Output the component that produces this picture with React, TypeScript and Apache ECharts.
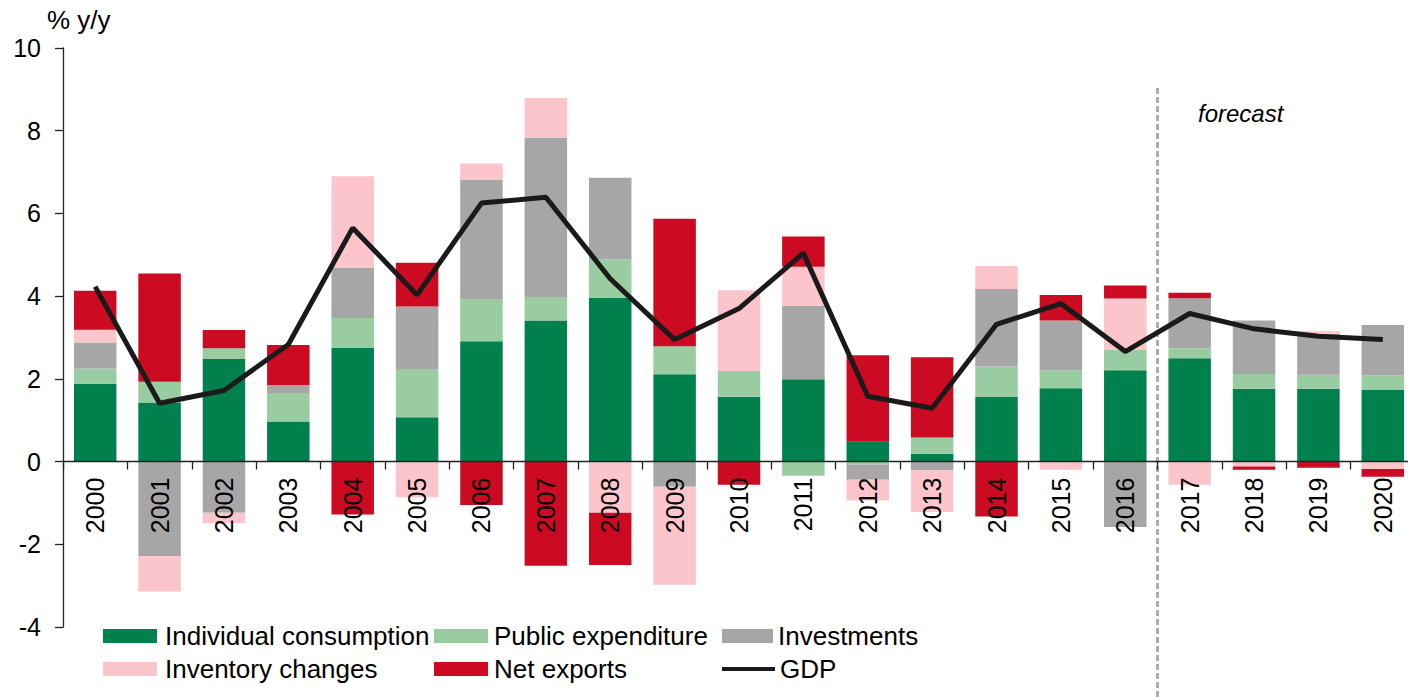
import React, { useEffect, useRef } from "react";
import * as echarts from "echarts";

const years = ["2000","2001","2002","2003","2004","2005","2006","2007","2008","2009","2010","2011","2012","2013","2014","2015","2016","2017","2018","2019","2020"];
const consumption = [1.88, 1.43, 2.48, 0.97, 2.75, 1.07, 2.91, 3.41, 3.96, 2.11, 1.57, 1.99, 0.48, 0.19, 1.56, 1.77, 2.21, 2.50, 1.76, 1.76, 1.73];
const publicExp = [0.37, 0.50, 0.26, 0.67, 0.72, 1.15, 1.00, 0.55, 0.93, 0.68, 0.62, -0.34, -0.07, 0.39, 0.74, 0.44, 0.50, 0.24, 0.36, 0.34, 0.35];
const investments = [0.63, -2.29, -1.24, 0.21, 1.21, 1.53, 2.90, 3.87, 1.97, -0.61, 0, 1.78, -0.37, -0.21, 1.87, 1.20, -1.58, 1.21, 1.29, 0.99, 1.22];
const inventory = [0.31, -0.85, -0.25, 0, 2.22, -0.86, 0.40, 0.96, -1.24, -2.37, 1.95, 0.94, -0.50, -1.01, 0.56, -0.20, 1.23, -0.56, -0.12, 0.06, -0.18];
const netExports = [0.94, 2.62, 0.44, 0.97, -1.28, 1.06, -1.05, -2.52, -1.26, 3.08, -0.56, 0.73, 2.09, 1.94, -1.33, 0.62, 0.32, 0.13, -0.08, -0.15, -0.19];
const gdp = [4.23, 1.41, 1.72, 2.83, 5.65, 4.03, 6.25, 6.39, 4.42, 2.95, 3.70, 5.04, 1.58, 1.29, 3.32, 3.82, 2.66, 3.58, 3.21, 3.03, 2.95];

const yTicks = { min: -4, max: 10, interval: 2 };
const FONT = '"Liberation Sans", Arial, Helvetica, sans-serif';

const barSeries = [
  { name: "Individual consumption", data: consumption, color: "#00804C" },
  { name: "Public expenditure", data: publicExp, color: "#99CCA0" },
  { name: "Investments", data: investments, color: "#A6A6A6" },
  { name: "Inventory changes", data: inventory, color: "#FCC5CB" },
  { name: "Net exports", data: netExports, color: "#CC0A21" },
];

const legendPos = [
  { name: "Individual consumption", left: 103, top: 623, w: 54, pad: 3 },
  { name: "Public expenditure", left: 434, top: 623, w: 54, pad: 1 },
  { name: "Investments", left: 722, top: 623, w: 51, pad: 0 },
  { name: "Inventory changes", left: 103, top: 656, w: 54, pad: 3 },
  { name: "Net exports", left: 434, top: 656, w: 54, pad: 1 },
  { name: "GDP", left: 722, top: 656, w: 53, pad: 0 },
];

const GRID_TOP = 48;
const GRID_H = 579;

export default function App() {
  const ref = useRef<HTMLDivElement>(null);
  useEffect(() => {
    if (!ref.current) return;
    const chart = echarts.init(ref.current, null, { renderer: "svg" });
    const zeroOffset = -(GRID_H * (0 - yTicks.min)) / (yTicks.max - yTicks.min);
    const option: any = {
      animation: false,
      textStyle: { fontFamily: FONT },
      grid: { left: 63, top: GRID_TOP, width: 1352, height: GRID_H, containLabel: false, outerBoundsMode: "none" },
      legend: legendPos.map((l) => {
        const isLine = l.name === "GDP";
        return {
          data: isLine ? [{ name: l.name, icon: "rect", itemStyle: { color: "#1a1a1a" } }] : [{ name: l.name, icon: "rect" }],
          left: l.left,
          top: l.top,
          padding: 0,
          itemWidth: l.w,
          itemHeight: isLine ? 4 : 14,
          selectedMode: false,
          textStyle: { fontSize: 26, lineHeight: 26, color: "#000", fontFamily: FONT, padding: [0, 0, 0, l.pad] },
        };
      }),
      xAxis: {
        type: "category",
        data: years,
        position: "bottom",
        offset: zeroOffset,
        z: 10,
        axisLine: { onZero: false, lineStyle: { color: "#222", width: 1.3 } },
        axisTick: { show: true, length: 8, interval: 0, alignWithLabel: false, lineStyle: { color: "#222", width: 1.3 } },
        axisLabel: { rotate: 90, margin: 16, fontSize: 25, color: "#000", interval: 0, fontFamily: FONT, hideOverlap: false },
        splitLine: { show: false },
      },
      yAxis: {
        type: "value",
        min: yTicks.min,
        max: yTicks.max,
        interval: yTicks.interval,
        splitLine: { show: false },
        axisLine: { show: true, lineStyle: { color: "#222", width: 1.3 } },
        axisTick: { show: true, length: 8, lineStyle: { color: "#222", width: 1.3 } },
        axisLabel: { fontSize: 25, margin: 22, color: "#000", fontFamily: FONT },
      },
      series: [
        ...barSeries.map((s) => ({
          name: s.name,
          type: "bar",
          stack: "total",
          data: s.data,
          barCategoryGap: "34%",
          itemStyle: { color: s.color },
          emphasis: { disabled: true },
        })),
        {
          name: "GDP",
          type: "line",
          data: gdp,
          symbol: "none",
          showSymbol: false,
          z: 5,
          itemStyle: { color: "#1a1a1a" },
          lineStyle: { color: "#1a1a1a", width: 5 },
          emphasis: { disabled: true },
        },
      ],
    };
    chart.setOption(option);
    const x16 = chart.convertToPixel({ xAxisIndex: 0 }, "2016") as number;
    const x17 = chart.convertToPixel({ xAxisIndex: 0 }, "2017") as number;
    const mid = (x16 + x17) / 2;
    chart.setOption({
      graphic: [
        {
          type: "line",
          z: 1,
          shape: { x1: mid, y1: 88, x2: mid, y2: 697 },
          style: { stroke: "#ACACAC", lineWidth: 3, lineDash: [6, 3] },
        },
        {
          type: "text",
          left: 47,
          top: 7,
          style: { text: "% y/y", fontSize: 26, fill: "#000", fontFamily: FONT },
        },
        {
          type: "text",
          x: 1198,
          y: 113,
          style: { text: "forecast", fontSize: 24, fontStyle: "italic", fill: "#000", fontFamily: FONT, verticalAlign: "middle" },
        },
      ],
    });
    return () => chart.dispose();
  }, []);
  return <div ref={ref} style={{ position: "absolute", left: 0, top: 0, width: 1408, height: 697 }} />;
}
